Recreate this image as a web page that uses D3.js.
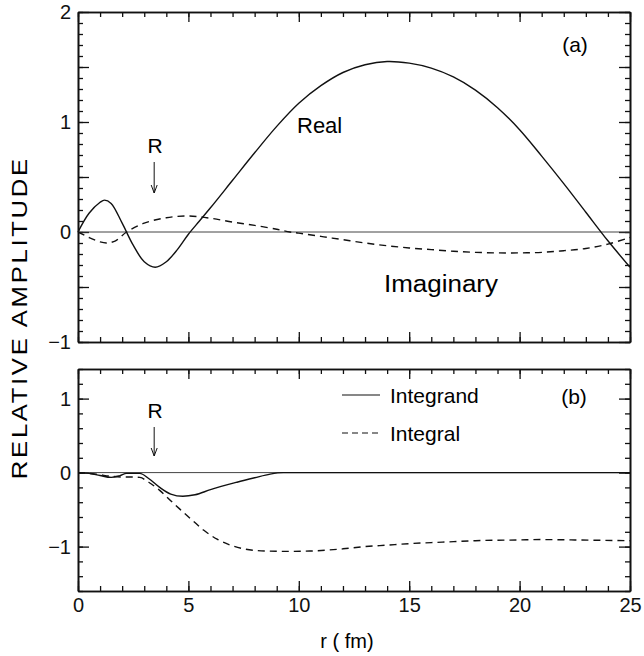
<!DOCTYPE html>
<html>
<head>
<meta charset="utf-8">
<script src="https://cdn.jsdelivr.net/npm/d3@7"></script>
<style>
  body { margin: 0; background: #fff; }
  svg { font-family: "Liberation Sans", Arial, sans-serif; }
  .axis path, .axis line { stroke: #111; }
  .axis text { font-size: 20px; fill: #111; }
</style>
</head>
<body>
<div id="chart"></div>
<script>
// ---- data ----
// panel (a): wave function, real and imaginary parts
var rReal   = [0, 0.5, 1.0, 1.2, 1.5, 2.0, 2.5, 3.0, 3.5, 4.0, 4.5, 5.0, 5.5, 6.0, 7.0, 8.0, 9.0, 10, 11, 12, 13, 14, 15, 16, 17, 18, 19, 20, 21, 22, 23, 24, 25];
var vReal   = [0, 0.17, 0.27, 0.29, 0.26, 0.08, -0.12, -0.27, -0.32, -0.27, -0.16, -0.02, 0.10, 0.22, 0.47, 0.72, 0.96, 1.17, 1.33, 1.45, 1.52, 1.55, 1.535, 1.49, 1.41, 1.29, 1.13, 0.93, 0.69, 0.44, 0.18, -0.08, -0.32];
var rImag   = [0, 0.5, 1.0, 1.3, 1.7, 2.2, 3.0, 4.0, 5.0, 6.0, 7.0, 8.0, 9.0, 9.6, 10, 11, 12, 13, 14, 15, 16, 17, 18, 19, 20, 21, 22, 23, 24, 25];
var vImag   = [0, -0.05, -0.09, -0.10, -0.08, 0, 0.08, 0.13, 0.145, 0.125, 0.09, 0.06, 0.025, 0, -0.01, -0.04, -0.07, -0.10, -0.125, -0.145, -0.16, -0.175, -0.185, -0.19, -0.19, -0.185, -0.17, -0.15, -0.11, -0.05];

// panel (b): integrand and running integral
var rIntegrand = [0, 0.5, 1.0, 1.5, 1.9, 2.2, 2.8, 3.2, 3.7, 4.2, 4.75, 5.3, 6.0, 7.2, 8.0, 8.7, 9.3, 12, 15, 20, 25];
var vIntegrand = [0, -0.01, -0.04, -0.065, -0.04, -0.01, -0.01, -0.08, -0.20, -0.29, -0.32, -0.30, -0.23, -0.13, -0.07, -0.02, 0, 0, 0, 0, 0];
var rIntegral  = [0, 0.5, 1.0, 1.5, 2.0, 2.5, 2.8, 3.2, 3.7, 4.2, 4.6, 5.2, 5.7, 6.3, 6.9, 7.5, 8.5, 9.5, 10.5, 12, 13, 14, 15, 16.5, 18, 20, 21, 22.5, 25];
var vIntegral  = [0, -0.01, -0.03, -0.05, -0.06, -0.06, -0.065, -0.13, -0.24, -0.38, -0.49, -0.65, -0.78, -0.90, -0.98, -1.03, -1.06, -1.065, -1.06, -1.03, -1.00, -0.98, -0.96, -0.94, -0.92, -0.91, -0.905, -0.91, -0.92];

var xTickLabels = [0, 5, 10, 15, 20, 25];
var yLabelsA = [2, 1, 0, -1];
var yLabelsB = [1, 0, -1];
var rMarker = 3.45;   // position of the "R" arrow
var legendNames = ["Integrand", "Integral"];

function zip(xs, ys) { return xs.map(function(x, i) { return [x, ys[i]]; }); }
function range(a, b, step) {
    var out = [];
    for (var v = a; v <= b + 1e-9; v += step) out.push(Math.round(v * 1000) / 1000);
    return out;
}

var W = 644, H = 656;
var left = 78, right = 630;

var svg = d3.select("#chart").append("svg")
    .attr("width", W)
    .attr("height", H);

var x = d3.scaleLinear().domain([0, 25]).range([left, right]);

function fmt(d) { return d < 0 ? "\u2212" + Math.abs(d) : "" + d; }

// draws a boxed panel with inward ticks on all four sides
function panel(y, yMinor, yMajor, yLabels, xLabels) {
    var top = y.range()[1], bottom = y.range()[0];
    var g = svg.append("g");
    var xMinor = range(0, 25, 1), xMajor = range(0, 25, 5);

    function ax(gen, tr, vals, size, labels) {
        g.append("g").attr("class", "axis")
            .attr("transform", tr)
            .call(gen.tickValues(vals).tickSize(-size).tickSizeOuter(0).tickPadding(7)
                .tickFormat(function(d) { return labels && labels.indexOf(d) >= 0 ? fmt(d) : ""; }))
            .call(function(s) {
                s.select(".domain").attr("stroke-width", 1.6);
                s.selectAll(".tick line").attr("stroke-width", 1.3);
            });
    }
    ax(d3.axisLeft(y), "translate(" + left + ",0)", yMinor, 5);
    ax(d3.axisLeft(y), "translate(" + left + ",0)", yMajor, 11, yLabels);
    ax(d3.axisRight(y), "translate(" + right + ",0)", yMinor, 5);
    ax(d3.axisRight(y), "translate(" + right + ",0)", yMajor, 11);
    ax(d3.axisTop(x), "translate(0," + top + ")", xMinor, 5);
    ax(d3.axisTop(x), "translate(0," + top + ")", xMajor, 10);
    ax(d3.axisBottom(x), "translate(0," + bottom + ")", xMinor, 5);
    ax(d3.axisBottom(x), "translate(0," + bottom + ")", xMajor, 10, xLabels);

    // zero line
    g.append("line")
        .attr("x1", left).attr("x2", right)
        .attr("y1", y(0)).attr("y2", y(0))
        .attr("stroke", "#444").attr("stroke-width", 1);
    return g;
}

function curve(g, y, pts, dashed, interp) {
    var line = d3.line()
        .x(function(d) { return x(d[0]); })
        .y(function(d) { return y(d[1]); })
        .curve(interp || d3.curveCatmullRom.alpha(0.5));
    g.append("path")
        .datum(pts)
        .attr("d", line)
        .attr("fill", "none")
        .attr("stroke", "#111")
        .attr("stroke-width", 1.4)
        .attr("stroke-dasharray", dashed ? "7,5" : null);
}

function arrow(y, yTop, yBot) {
    var px = x(rMarker);
    svg.append("text").attr("x", px + 1).attr("y", yTop - 9)
        .attr("text-anchor", "middle").attr("font-size", 21).text("R");
    svg.append("line").attr("x1", px).attr("x2", px)
        .attr("y1", yTop).attr("y2", yBot)
        .attr("stroke", "#111").attr("stroke-width", 1);
    svg.append("path")
        .attr("d", "M" + (px - 3) + "," + (yBot - 8) + " L" + px + "," + yBot + " L" + (px + 3) + "," + (yBot - 8))
        .attr("fill", "none").attr("stroke", "#111").attr("stroke-width", 1);
}

// ---- panel (a) ----
var yA = d3.scaleLinear().domain([-1, 2]).range([342, 12]);
var gA = panel(yA, range(-1, 2, 0.1), range(-1, 2, 0.5), yLabelsA, null);
curve(gA, yA, zip(rReal, vReal), false);
curve(gA, yA, zip(rImag, vImag), true);
svg.append("text").attr("x", 575).attr("y", 52).attr("text-anchor", "middle")
    .attr("font-size", 21).text("(a)");
svg.append("text").attr("x", 297).attr("y", 133).attr("font-size", 22).text("Real");
svg.append("text").attr("x", 384).attr("y", 292).attr("font-size", 23)
    .attr("textLength", 114).attr("lengthAdjust", "spacingAndGlyphs").text("Imaginary");
arrow(yA, 162, 193);

// ---- panel (b) ----
var yB = d3.scaleLinear().domain([-1.6, 1.4]).range([591, 369]);
var gB = panel(yB, range(-1.6, 1.4, 0.2), [-1, 0, 1], yLabelsB, xTickLabels);
curve(gB, yB, zip(rIntegrand, vIntegrand), false, d3.curveMonotoneX);
curve(gB, yB, zip(rIntegral, vIntegral), true, d3.curveMonotoneX);
svg.append("text").attr("x", 574).attr("y", 404).attr("text-anchor", "middle")
    .attr("font-size", 21).text("(b)");
arrow(yB, 427, 456);

// legend
legendNames.forEach(function(name, i) {
    var ly = 395 + i * 38;
    svg.append("line").attr("x1", 342).attr("x2", 380)
        .attr("y1", ly).attr("y2", ly)
        .attr("stroke", "#111").attr("stroke-width", 1.2)
        .attr("stroke-dasharray", i === 1 ? "6,4" : null);
    svg.append("text").attr("x", 390).attr("y", ly + 8)
        .attr("font-size", 21).text(name);
});

// axis titles
svg.append("text").attr("x", 347).attr("y", 648).attr("text-anchor", "middle")
    .attr("font-size", 20).attr("xml:space", "preserve").text("r ( fm)");
svg.append("text")
    .attr("transform", "translate(27,319) rotate(-90) scale(1.12,1)")
    .attr("text-anchor", "middle")
    .attr("font-size", 23)
    .attr("textLength", 286)
    .attr("lengthAdjust", "spacing")
    .text("RELATIVE AMPLITUDE");
</script>
</body>
</html>
